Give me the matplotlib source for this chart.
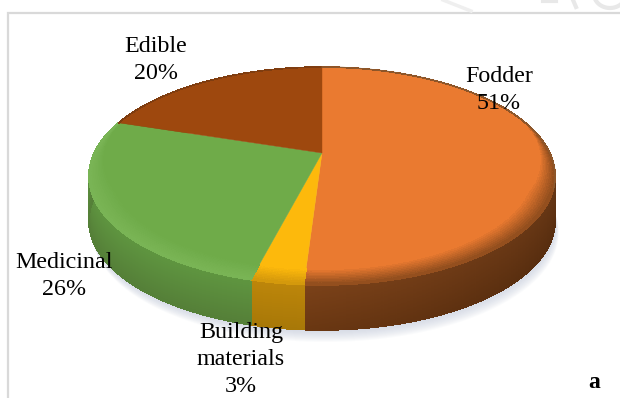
import numpy as np
import matplotlib
matplotlib.use('Agg')
import matplotlib.pyplot as plt
from matplotlib.collections import PolyCollection
from matplotlib.colors import to_rgb

categories = ['Fodder', 'Building\nmaterials', 'Medicinal', 'Edible']
shares = [51, 3, 26, 20]
face_colors = ['#ea7a30', '#fdb90c', '#6fab49', '#9e480e']
band_colors = ['#8a4a1c', '#d0950c', '#7ab556', '#7c3c10']
wall_top = ['#7c4219', '#bd860a', '#5f9640', '#6c3410']
wall_bottom = ['#6a3712', '#a87808', '#557f38', '#5c2c0c']

# label centres and baselines of the first line, in pixels
label_x = [499, 241, 64, 156]
label_y = [82, 338, 268, 52]

CX, CY = 322, 153
SCALE_X, SCALE_Y, TILT = 227.8, 104.1, 0.211
DEPTH = 45
BEVEL = 10


def rim(theta, radius=1.0):
    # clockwise from 12 o'clock, disc tilted towards the viewer
    u = radius * np.sin(theta)
    v = -radius * np.cos(theta)
    w = 1 - TILT * v
    return CX + SCALE_X * u / w, CY + SCALE_Y * v / w


def blend(a, b, t):
    a, b = np.array(to_rgb(a)), np.array(to_rgb(b))
    return tuple(a + (b - a) * min(max(t, 0), 1))


fig = plt.figure(figsize=(6.2, 3.98), dpi=100)
ax = fig.add_axes([0, 0, 1, 1])
ax.set_xlim(0, 620)
ax.set_ylim(398, 0)
ax.axis('off')

# chart frame, only top and left survive
ax.plot([8, 8, 620], [398, 12.5, 12.5], color='#d9d9d9', lw=1.6, solid_joinstyle='miter')

# faint stamp cut off above the frame
ax.plot([443, 471], [0, 11], color='#efefef', lw=2.5)
ax.plot([543, 556], [1, 1], color='#e8e8e8', lw=3)
ax.plot([573, 576], [0, 7], color='#e8e8e8', lw=3)
arc = np.linspace(0, np.pi, 30)
ax.plot(610 + 16 * np.cos(arc), -6 + 14 * np.sin(arc), color='#e8e8e8', lw=3)

# soft drop shadow
ts = np.linspace(0, 2 * np.pi, 240)
xs, ys = rim(ts)
for k in range(12, 0, -1):
    ax.fill(xs + k * 0.3, ys + DEPTH + k, color='#c3c9dc', alpha=0.07, lw=0, zorder=1)

edges = np.cumsum([0] + shares) / sum(shares) * 2 * np.pi

# side wall below the face, cut into quads so it can be shaded both ways
wall_quads, wall_colors = [], []
bevel_quads, bevel_colors = [], []
depths = np.arange(0, DEPTH + 1, 1.0)
bevel_steps = np.arange(BEVEL, -0.5, -1.0)
for i in range(len(shares)):
    n = max(int((edges[i + 1] - edges[i]) / 0.012), 2)
    th = np.linspace(edges[i], edges[i + 1], n + 1)
    x, y = rim(th)
    taper = np.clip(-np.cos(th) * 1.4 + 0.45, 0, 1)
    for j in range(n):
        # wall gets darker towards the right hand side of the slice
        side = 0.82 + 0.18 * (1 - (x[j] - 300) / 255) if i == 0 else 1.0
        for d0, d1 in zip(depths[:-1], depths[1:]):
            wall_quads.append([(x[j], y[j] + d0), (x[j + 1], y[j + 1] + d0),
                               (x[j + 1], y[j + 1] + d1), (x[j], y[j] + d1)])
            col = blend(wall_top[i], wall_bottom[i], d0 / DEPTH)
            wall_colors.append(tuple(min(c * side, 1) for c in col))
        # the bevel steps inwards along the radius so it stays inside the slice
        th_pair = th[j:j + 2]
        for b0, b1 in zip(bevel_steps[:-1], bevel_steps[1:]):
            r0 = 1 - b0 * taper[j:j + 2] / 105
            r1 = 1 - b1 * taper[j:j + 2] / 105
            x0, y0 = rim(th_pair, r0)
            x1, y1 = rim(th_pair, r1)
            bevel_quads.append([(x0[0], y0[0]), (x0[1], y0[1]), (x1[1], y1[1]), (x1[0], y1[0])])
            bevel_colors.append(blend(face_colors[i], band_colors[i], 1 - b0 / BEVEL))

ax.add_collection(PolyCollection(wall_quads, facecolors=wall_colors, edgecolors=wall_colors,
                                 linewidths=0.5, antialiaseds=False, zorder=2))

# top face of each slice
for i in range(len(shares)):
    th = np.linspace(edges[i], edges[i + 1], 120)
    x, y = rim(th)
    ax.fill(np.r_[CX, x], np.r_[CY, y], color=face_colors[i], lw=0.3, ec=face_colors[i], zorder=3)

ax.add_collection(PolyCollection(bevel_quads, facecolors=bevel_colors, edgecolors=bevel_colors,
                                 linewidths=0.5, antialiaseds=False, zorder=4))

# thin dark edge on the back of the large slice
th = np.linspace(edges[0], 1.9, 80)
x, y = rim(th)
ax.plot(x, y, color='#8a5a30', lw=0.9, zorder=4)

for name, share, x, y in zip(categories, shares, label_x, label_y):
    lines = name.split('\n') + [f'{share}%']
    for k, line in enumerate(lines):
        ax.text(x, y + k * 27, line, ha='center', va='baseline',
                family='Liberation Serif', fontsize=17.3, color='black', zorder=5)

ax.text(594, 388, 'a', ha='center', va='baseline', family='Liberation Serif',
        fontweight='bold', fontsize=17, color='black', zorder=5)

fig.savefig('out.png', dpi=100)
